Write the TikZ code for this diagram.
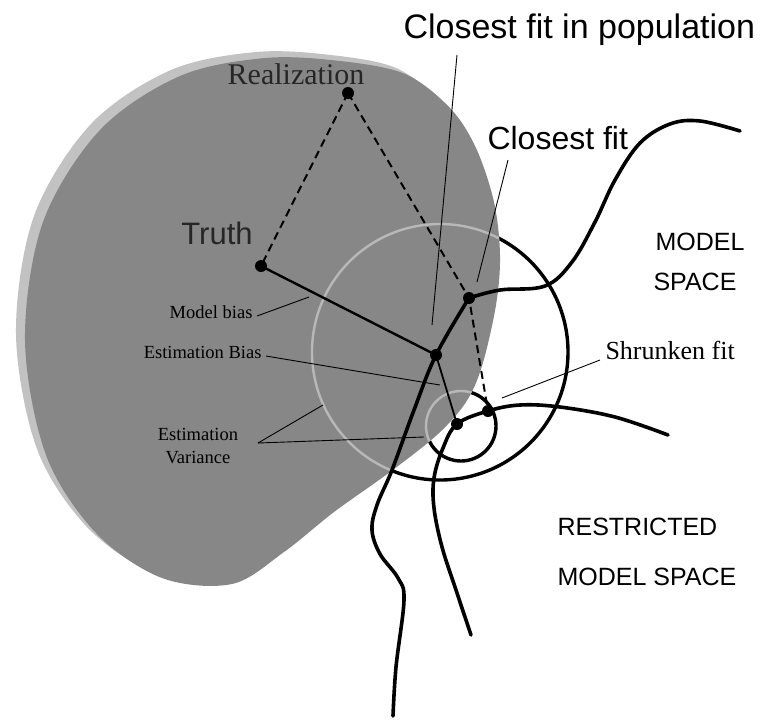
\documentclass[tikz,border=0pt]{standalone}
\usepackage{fontspec}
\newfontfamily\sansf{Liberation Sans}
\newfontfamily\seriff{Liberation Serif}
\usetikzlibrary{calc}
\begin{document}
\begin{tikzpicture}[x=1pt,y=-1pt,
  dot/.style={circle,fill=black,inner sep=0pt,minimum size=12pt},
  spacecurve/.style={line width=3.6pt,line cap=round,line join=round},
  lead/.style={line width=0.9pt},
  dashline/.style={line width=2pt,dash pattern=on 8pt off 5pt},
  ring/.style={line width=3.4pt},
  lightring/.style={line width=2.4pt,draw=black!28},
  bigsans/.style={font=\sansf\fontsize{34}{38}\selectfont},
  midsans/.style={font=\sansf\fontsize{25}{30}\selectfont},
  smallserif/.style={font=\seriff\fontsize{18.5}{21}\selectfont},
  discfill/.style={fill=black!47},
  halofill/.style={fill=black!24}]
\useasboundingbox (0,0) rectangle (768,721);

% points
\coordinate (R) at (348,93);
\coordinate (T) at (261,266);
\coordinate (C) at (469,298);
\coordinate (P) at (436,355);
\coordinate (L) at (457,424);
\coordinate (S) at (488,411);
\coordinate (BC) at (440,352);
\coordinate (SC) at (461,426);

% circles (black, outside the disc)
\draw[ring] (BC) circle[radius=128pt];
\draw[ring] (SC) circle[radius=35pt];

% shaded disc with lighter halo
\def\discpath{plot[smooth cycle,tension=0.55] coordinates {(265,58) (340,61) (405,74) (450,108) (476,148) (494,202) (500,255) (496,305) (482,366) (466,402) (438,434) (390,472) (334,512) (284,552) (232,584) (162,578) (96,533) (46,455) (25,340) (43,222) (100,130) (180,76)}}
\fill[halofill] [shift={(-9,-6)}] \discpath;
\fill[discfill] \discpath;
\begin{scope}
  \clip \discpath;
  \draw[lightring] (BC) circle[radius=128pt];
  \draw[lightring] (SC) circle[radius=35pt];
\end{scope}

% model space curve
\draw[spacecurve] plot[smooth,tension=0.6] coordinates {(393,716) (396,667) (404,600) (398,578) (380,554) (372,530) (377,505) (392,470) (414,410) (P) (C)};
\draw[spacecurve] plot[smooth,tension=0.6] coordinates {(C) (500,290) (545,286) (572,262) (595,222) (615,180) (640,143) (670,124) (700,121) (740,131)};

% restricted model space curve
\draw[spacecurve] plot[smooth,tension=0.6] coordinates {(668,435) (615,417) (560,407) (520,405) (S) (L) (443,448) (434,478) (434,508) (442,547) (456,590) (471,635)};

% solid and dashed segments
\draw[line width=2.4pt] (T) -- (P);
\draw[line width=1.8pt] (P) -- (L);
\draw[dashline] (R) -- (T);
\draw[dashline] (R) -- (C) -- (S);

% dots
\foreach \n in {R,T,C,P,L,S} \node[dot] (d\n) at (\n) {};

% labels
\node[font=\seriff\fontsize{30}{34}\selectfont,text=black!85] (lreal) at (296,74) {Realization};
\node[font=\sansf\fontsize{31}{34}\selectfont,text=black!85] (ltruth) at (217,233) {Truth};
\node[bigsans,anchor=west] (lpop) at (400,30) {Closest fit in population};
\node[font=\sansf\fontsize{32}{36}\selectfont,anchor=west] (lclose) at (484,138) {Closest fit};
\node[midsans,anchor=west] (lmodel1) at (652,242) {MODEL};
\node[midsans,anchor=west] (lmodel2) at (650,282) {SPACE};
\node[midsans,anchor=west] (lrestr1) at (554,527) {RESTRICTED};
\node[midsans,anchor=west] (lrestr2) at (554,577) {MODEL SPACE};
\node[font=\seriff\fontsize{26}{30}\selectfont,anchor=west] (lshrunk) at (602,350) {Shrunken fit};
\node[smallserif,anchor=east] (lmb) at (256,312) {Model bias};
\node[smallserif,anchor=east] (leb) at (265,352) {Estimation Bias};
\node[smallserif,align=center] (lev) at (198,446) {Estimation\\[2pt]Variance};

% leader lines
\coordinate (popstart) at (457,55);
\coordinate (popend) at (432,325);
\coordinate (closestart) at (508,160);
\coordinate (closeend) at (477,282);
\coordinate (shrunkstart) at (600,360);
\coordinate (shrunkend) at (502,398);
\coordinate (mbend) at (309,297);
\coordinate (ebend) at (440,385);
\coordinate (evstart) at (258,443);
\coordinate (evend1) at (323,405);
\coordinate (evend2) at (424,437);
\draw[lead] (popstart) -- (popend);
\draw[lead] (closestart) -- (closeend);
\draw[lead] (shrunkstart) -- (shrunkend);
\draw[lead] (lmb.east) ++(1,4) -- (mbend);
\draw[lead] (leb.east) ++(1,4) -- (ebend);
\draw[lead] (evstart) -- (evend1);
\draw[lead] (evstart) -- (evend2);
\end{tikzpicture}
\end{document}
